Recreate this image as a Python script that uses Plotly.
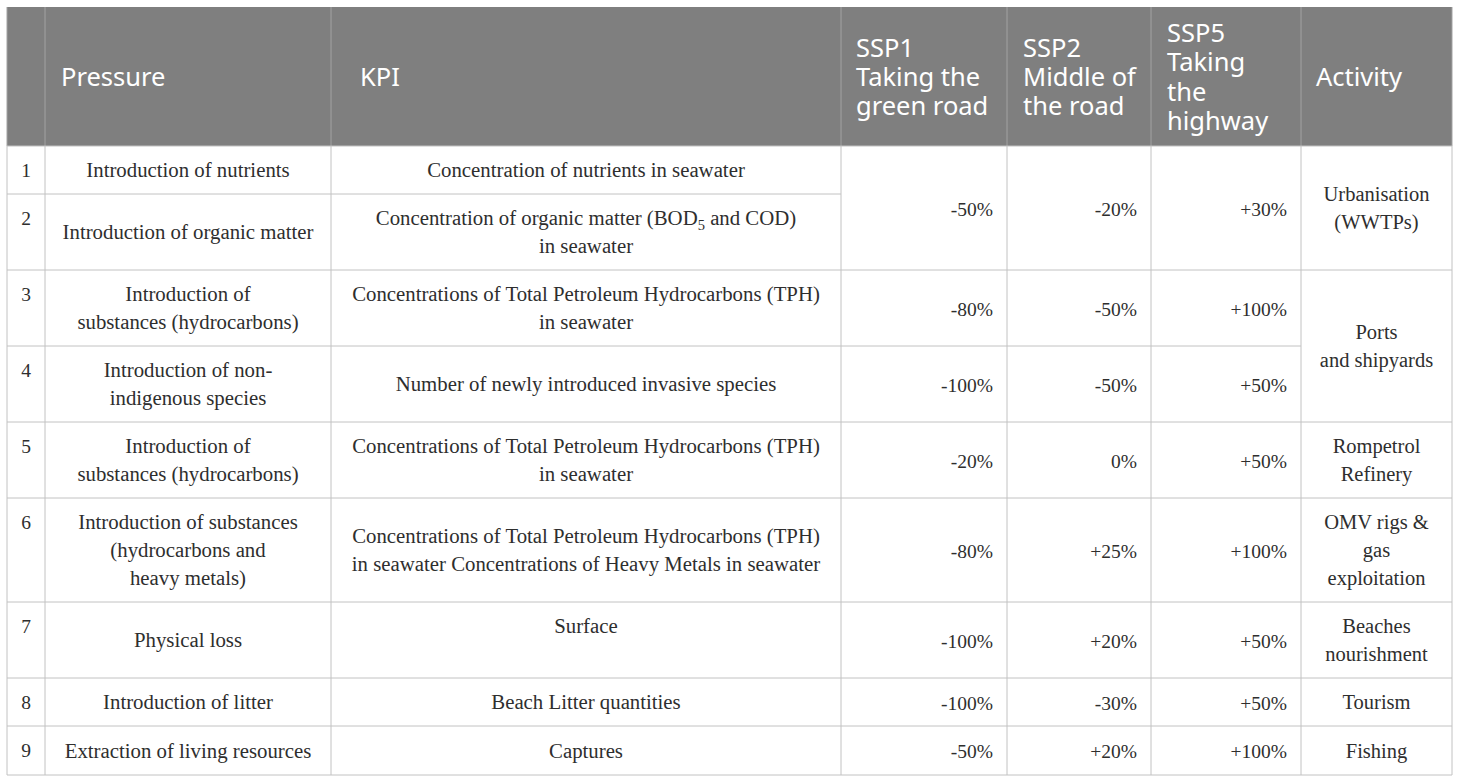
import plotly.graph_objects as go

# ---- table content ----
header_labels = ["", "Pressure", "KPI", "SSP1|Taking the|green road", "SSP2|Middle of|the road",
                 "SSP5|Taking|the|highway", "Activity"]
row_numbers = ["1", "2", "3", "4", "5", "6", "7", "8", "9"]
pressure = ["Introduction of nutrients", "Introduction of organic matter",
            "Introduction of|substances (hydrocarbons)", "Introduction of non-|indigenous species",
            "Introduction of|substances (hydrocarbons)",
            "Introduction of substances|(hydrocarbons and|heavy metals)",
            "Physical loss", "Introduction of litter", "Extraction of living resources"]
kpi = ["Concentration of nutrients in seawater",
       "Concentration of organic matter (BOD<sub>5</sub> and COD)|in seawater",
       "Concentrations of Total Petroleum Hydrocarbons (TPH)|in seawater",
       "Number of newly introduced invasive species",
       "Concentrations of Total Petroleum Hydrocarbons (TPH)|in seawater",
       "Concentrations of Total Petroleum Hydrocarbons (TPH)|in seawater Concentrations of Heavy Metals in seawater",
       "Surface", "Beach Litter quantities", "Captures"]
ssp1 = ["-50%", "-80%", "-100%", "-20%", "-80%", "-100%", "-100%", "-50%"]
ssp2 = ["-20%", "-50%", "-50%", "0%", "+25%", "+20%", "-30%", "+20%"]
ssp5 = ["+30%", "+100%", "+50%", "+50%", "+100%", "+50%", "+50%", "+100%"]
activity = ["Urbanisation|(WWTPs)", "Ports|and shipyards", "Rompetrol|Refinery",
            "OMV rigs &|gas|exploitation", "Beaches|nourishment", "Tourism", "Fishing"]
ssp_spans = [(0, 2), (2, 1), (3, 1), (4, 1), (5, 1), (6, 1), (7, 1), (8, 1)]
activity_spans = [(0, 2), (2, 2), (4, 1), (5, 1), (6, 1), (7, 1), (8, 1)]

# ---- layout geometry (page pixels used as axis units) ----
col_edges = [7, 45, 331, 841, 1007, 1151, 1301, 1452]
row_edges = [146, 194, 270, 346, 422, 498, 602, 678, 726, 775]
header_top = 7
header_text_x = [26, 61, 360, 856, 1023, 1167, 1316]
value_right_x = [993, 1137, 1287]
BODY = dict(family="Liberation Serif", size=20.8, color="#2e2e2e")
NUM = dict(family="Liberation Serif", size=19.5, color="#2e2e2e")
ACT = dict(family="Liberation Serif", size=20.5, color="#2e2e2e")
HEAD = dict(family="Noto Sans", size=25.5, color="#ffffff")
HEAD_FILL, HEAD_LINE, GRID = "#7f7f7f", "#a3a3a3", "#c2c2c2"
BODY_LH, HEAD_LH = 28, 29.3

fig = go.Figure()


def add_text(xs, ys, texts, pos, font):
    fig.add_trace(go.Scatter(x=xs, y=ys, text=texts, mode="text", textposition=pos,
                             textfont=font, hoverinfo="skip", showlegend=False, cliponaxis=False))


def lines_at(cell, x, ycentre, lh):
    parts = cell.split("|")
    start = ycentre - lh * (len(parts) - 1) / 2
    return [x] * len(parts), [start + i * lh for i in range(len(parts))], parts


def col_cells(cells, spans, x, pos, font, top=None, dy=2):
    X, Y, T = [], [], []
    for cell, (r, n), in zip(cells, spans):
        a, b = row_edges[r], row_edges[r + n]
        if top is not None and top(r):
            parts = cell.split("|")
            yc = a + 26 + BODY_LH * (len(parts) - 1) / 2
        else:
            yc = (a + b) / 2 + dy
        xs, ys, ts = lines_at(cell, x, yc, BODY_LH)
        X += xs; Y += ys; T += ts
    add_text(X, Y, T, pos, font)


single = [(i, 1) for i in range(9)]
mid = lambda i: (col_edges[i] + col_edges[i + 1]) / 2
col_cells(row_numbers, single, mid(0), "middle center", NUM, top=lambda r: True)
col_cells(pressure, single, mid(1), "middle center", BODY)
col_cells(kpi, single, mid(2), "middle center", BODY, top=lambda r: r == 6)
for vals, x in zip((ssp1, ssp2, ssp5), value_right_x):
    col_cells(vals, ssp_spans, x, "middle left", NUM, dy=3)
col_cells(activity, activity_spans, mid(6), "middle center", ACT, top=lambda r: r in (6,))

# header text
hx, hy, ht = [], [], []
for lab, x in zip(header_labels, header_text_x):
    if lab:
        xs, ys, ts = lines_at(lab, x, (header_top + row_edges[0]) / 2 + 3, HEAD_LH)
        hx += xs; hy += ys; ht += ts
add_text(hx, hy, ht, "middle right", HEAD)

shapes = [dict(type="rect", xref="x", yref="y", x0=col_edges[0], x1=col_edges[-1], y0=header_top, y1=row_edges[0],
               fillcolor=HEAD_FILL, line_width=0, layer="below")]


def seg(x0, y0, x1, y1, c):
    shapes.append(dict(type="line", xref="x", yref="y", x0=x0, y0=y0, x1=x1, y1=y1,
                       line=dict(color=c, width=1), layer="below"))


for x in col_edges:
    seg(x, header_top, x, row_edges[0], HEAD_LINE)
    seg(x, row_edges[0], x, row_edges[-1], GRID)
# horizontal rules, merged cells interrupted
full_right = col_edges[-1]
for i, y in enumerate(row_edges):
    if i == 1:
        seg(col_edges[0], y, col_edges[3], y, GRID)
    elif i == 3:
        seg(col_edges[0], y, col_edges[6], y, GRID)
    else:
        seg(col_edges[0], y, full_right, y, GRID)

fig.update_layout(width=1460, height=783, margin=dict(l=0, r=0, t=0, b=0), autosize=False,
                  paper_bgcolor="white", plot_bgcolor="white", shapes=shapes, showlegend=False,
                  xaxis=dict(range=[0, 1460], visible=False, fixedrange=True),
                  yaxis=dict(range=[783, 0], visible=False, fixedrange=True))
fig.write_html("out.html", config={"displayModeBar": False},
               post_script="document.body.style.margin='0';")
